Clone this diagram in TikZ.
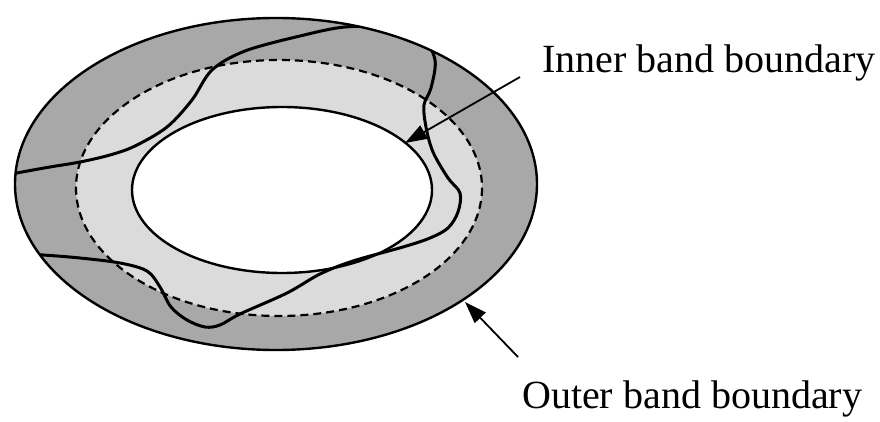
\documentclass[tikz,border=0pt]{standalone}
\usepackage{fontspec}
\setmainfont{Liberation Serif}
\usetikzlibrary{arrows.meta}

\begin{document}
\begin{tikzpicture}[
    x=1pt, y=-1pt,
    rim/.style={line width=2.4pt},
    pointer/.style={-{Triangle[length=22pt,width=15pt]}, line width=1.8pt},
    bandtext/.style={anchor=base west, inner sep=0pt, font=\fontsize{40}{48}\selectfont}
]
\useasboundingbox (0,0) rectangle (880,422);

% bands
\fill[black!34] (276,184) ellipse [x radius=261, y radius=166];
\fill[black!14] (279,188) ellipse [x radius=203, y radius=128];
\draw[rim, fill=white] (282,190) ellipse [x radius=150, y radius=83];
\draw[line width=2.2pt, dash pattern=on 8pt off 5pt] (279,188) ellipse [x radius=203, y radius=128];

% wiggly contour
\begin{scope}
\clip (276,184) ellipse [x radius=261, y radius=166];
\draw[line width=3pt] plot[smooth, tension=0.55] coordinates {
    (-10,179) (17,173) (50,167) (80,162) (110,155) (135,146) (167,127)
    (192,100) (212,70) (245,51) (300,36) (345,27) (390,28) (422,38)
    (435,60) (431,88) (424,105) (426,127) (433,152) (448,178) (460,193)
    (458,212) (448,228) (430,238) (403,247) (353,261) (320,274) (287,293)
    (240,314) (220,325) (205,327) (187,320) (171,307) (160,287) (147,271)
    (120,263) (80,258) (43,255) (5,253)};
\end{scope}
\draw[rim] (276,184) ellipse [x radius=261, y radius=166];

% labels
\node[bandtext] (inner) at (542,73) {Inner band boundary};
\node[bandtext] (outer) at (522,408) {Outer band boundary};

\coordinate (innertail) at (520,77);
\coordinate (innertip) at (405,143);
\coordinate (outertail) at (518,357);
\coordinate (outertip) at (465,302);

\draw[pointer] (innertail) -- (innertip);
\draw[pointer] (outertail) -- (outertip);

\end{tikzpicture}
\end{document}
